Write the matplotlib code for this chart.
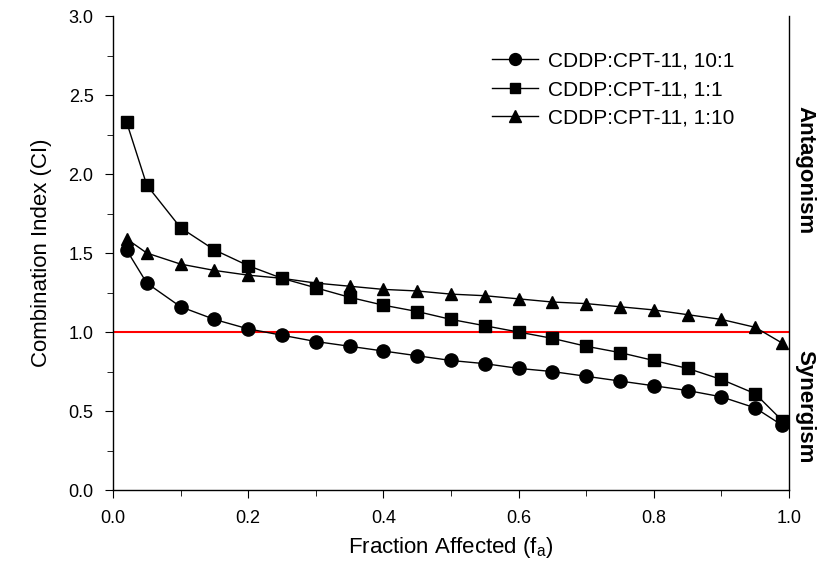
import matplotlib
matplotlib.use("Agg")
import matplotlib.pyplot as plt
from matplotlib.ticker import MultipleLocator

plt.rcParams['font.family'] = ['Liberation Sans', 'DejaVu Sans']

fa = [0.02, 0.05, 0.1, 0.15, 0.2, 0.25, 0.3, 0.35, 0.4, 0.45, 0.5,
      0.55, 0.6, 0.65, 0.7, 0.75, 0.8, 0.85, 0.9, 0.95, 0.99]
ci_10_1 = [1.52, 1.31, 1.16, 1.08, 1.02, 0.98, 0.94, 0.91, 0.88, 0.85, 0.82,
           0.80, 0.77, 0.75, 0.72, 0.69, 0.66, 0.63, 0.59, 0.52, 0.41]
ci_1_1 = [2.33, 1.93, 1.66, 1.52, 1.42, 1.34, 1.28, 1.22, 1.17, 1.13, 1.08,
          1.04, 1.00, 0.96, 0.91, 0.87, 0.82, 0.77, 0.70, 0.61, 0.44]
ci_1_10 = [1.59, 1.50, 1.43, 1.39, 1.36, 1.34, 1.31, 1.29, 1.27, 1.26, 1.24,
           1.23, 1.21, 1.19, 1.18, 1.16, 1.14, 1.11, 1.08, 1.03, 0.93]
labels = ["CDDP:CPT-11, 10:1", "CDDP:CPT-11, 1:1", "CDDP:CPT-11, 1:10"]

fig = plt.figure(figsize=(8.17, 5.62), dpi=100)
ax = fig.add_axes([0.1383, 0.128, 0.8274, 0.8435])

ax.axhline(1.0, color='red', lw=1.5, zorder=1)
ax.plot(fa, ci_10_1, '-o', color='black', lw=1, ms=9.5, label=labels[0], zorder=3)
ax.plot(fa, ci_1_1, '-s', color='black', lw=1, ms=8, label=labels[1], zorder=3)
ax.plot(fa, ci_1_10, '-^', color='black', lw=1, ms=9, label=labels[2], zorder=3)

ax.set_xlim(0, 1.0)
ax.set_ylim(0, 3.0)
ax.xaxis.set_major_locator(MultipleLocator(0.2))
ax.xaxis.set_minor_locator(MultipleLocator(0.1))
ax.yaxis.set_major_locator(MultipleLocator(0.5))
ax.yaxis.set_minor_locator(MultipleLocator(0.25))
ax.set_xticklabels([f"{v:.1f}" for v in ax.get_xticks()])
ax.set_yticklabels([f"{v:.1f}" for v in ax.get_yticks()])
ax.tick_params(which='major', direction='out', length=6, labelsize=13, pad=8)
ax.tick_params(which='minor', direction='out', length=4)
ax.spines['top'].set_visible(False)
for s in ['left', 'bottom', 'right']:
    ax.spines[s].set_linewidth(1)

ax.set_xlabel("Fraction Affected (f$_\\mathregular{a}$)", fontsize=16, labelpad=6)
ax.set_ylabel("Combination Index (CI)", fontsize=16, labelpad=12)

ax.legend(loc='upper left', bbox_to_anchor=(0.602, 0.908), bbox_transform=fig.transFigure,
          frameon=False, fontsize=15, borderpad=0, borderaxespad=0,
          handlelength=2.2, handletextpad=0.5, markerscale=0.9, labelspacing=0.45)

fig.text(0.985, 0.698, "Antagonism", rotation=-90, ha='center', va='center',
         fontsize=16, fontweight='bold')
fig.text(0.985, 0.276, "Synergism", rotation=-90, ha='center', va='center',
         fontsize=16, fontweight='bold')

fig.savefig("out.png", dpi=100)
